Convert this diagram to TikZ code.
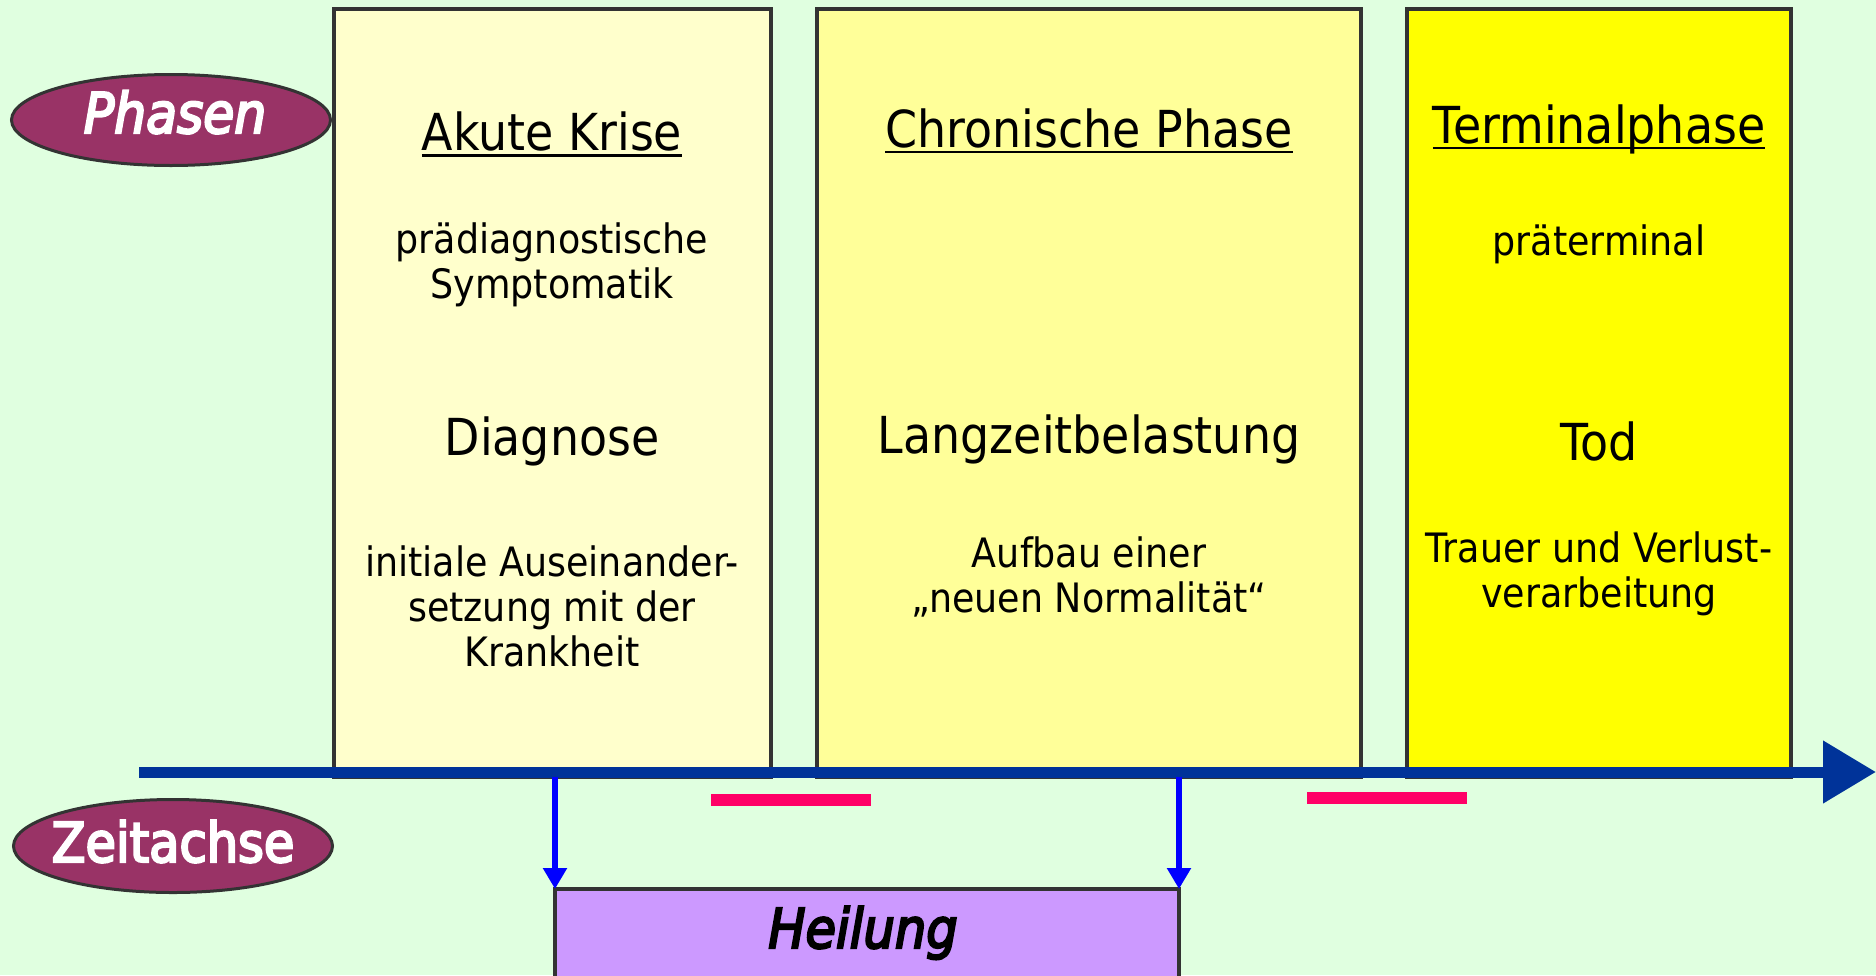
\documentclass[tikz,border=0pt]{standalone}
\usepackage{fontspec}
\setmainfont[FakeStretch=0.9]{DejaVu Sans}
\usetikzlibrary{arrows.meta,shapes.geometric}
\definecolor{bgc}{HTML}{E0FFE0}
\definecolor{bord}{HTML}{333333}
\definecolor{boxA}{HTML}{FFFFCC}
\definecolor{boxB}{HTML}{FFFF99}
\definecolor{boxC}{HTML}{FFFF00}
\definecolor{ellc}{HTML}{993366}
\definecolor{axc}{HTML}{003399}
\definecolor{pinkc}{HTML}{FF0066}
\definecolor{bluc}{HTML}{0000FF}
\definecolor{heilc}{HTML}{CC99FF}
\newcommand\myul[1]{\setbox0\hbox{#1}\rlap{\rule[-6pt]{\wd0}{2.5pt}}\box0}
\begin{document}
\begin{tikzpicture}[x=1pt,y=-1pt,
  phasebox/.style={rectangle,draw=bord,line width=4pt,inner sep=0pt,outer sep=0pt},
  ell/.style={ellipse,draw=bord,line width=3pt,fill=ellc,inner sep=0pt,outer sep=0pt},
  ttl/.style={font=\fontsize{51}{60}\selectfont,inner sep=0pt,text=black},
  big/.style={font=\fontsize{51}{60}\selectfont,inner sep=0pt,text=black},
  small/.style={font=\fontsize{40.5}{45}\selectfont,align=center,inner sep=0pt,text=black},
  axisline/.style={draw=axc,line width=11pt,-{Triangle[length=53pt,width=60pt]}},
  bluarrow/.style={draw=bluc,line width=6.5pt,-{Triangle[length=21pt,width=23pt]}},
  pinkbar/.style={draw=pinkc,line width=12pt},
  elltext/.style={text=white,inner sep=0pt,anchor=base}
]
\useasboundingbox (0,0) rectangle (1876,975);
\clip (0,0) rectangle (1876,975);
\fill[bgc] (0,0) rectangle (1876,975);

% phase boxes
\node[phasebox,fill=boxA,minimum width=437pt,minimum height=768pt] (b1) at (552.5,393) {};
\node[phasebox,fill=boxB,minimum width=544pt,minimum height=768pt] (b2) at (1089,393) {};
\node[phasebox,fill=boxC,minimum width=384pt,minimum height=768pt] (b3) at (1599,393) {};

% time axis
\coordinate (axs) at (139,772);
\coordinate (axe) at (1876,772);
\coordinate (axb) at (0,777);
\draw[axisline] (axs) -- (axe);

% red bars
\draw[pinkbar] (711,800) -- (871,800);
\draw[pinkbar] (1307,798) -- (1467,798);

% Heilung
\node[phasebox,fill=heilc,minimum width=624pt,minimum height=120pt] (heil) at (867,949) {};
\node[font=\fontsize{55}{60}\selectfont\itshape\addfontfeatures{FakeBold=4},inner sep=0pt,anchor=base] (heilT) at (863,948) {Heilung};
\draw[bluarrow] (heil.north west |- axb) -- (heil.north west);
\draw[bluarrow] (heil.north east |- axb) -- (heil.north east);

% ellipses
\node[ell,minimum width=319pt,minimum height=91pt] (ph) at (171,120) {};
\node[elltext,font=\fontsize{56}{60}\selectfont\itshape\addfontfeatures{FakeBold=4}] (phT) at (175,133) {Phasen};
\node[ell,minimum width=319pt,minimum height=93pt] (za) at (173,846) {};
\node[elltext,font=\fontsize{55}{60}\selectfont\addfontfeatures{FakeBold=4}] (zaT) at (173,862) {Zeitachse};

% box 1 texts
\node[ttl] (t1) at (552,134.5) {\myul{Akute Krise}};
\node[small] (s1) at (552,265) {prädiagnostische\\Symptomatik};
\node[big] (m1) at (552,441) {Diagnose};
\node[small] (l1) at (552,606) {initiale Auseinander-\\setzung mit der\\Krankheit};

% box 2 texts
\node[ttl] (t2) at (1089,131) {\myul{Chronische Phase}};
\node[big] (m2) at (1089,439) {Langzeitbelastung};
\node[small] (l2) at (1089,577) {Aufbau einer\\„neuen Normalität“};

% box 3 texts
\node[ttl] (t3) at (1599,129) {\myul{Terminalphase}};
\node[small] (s3) at (1599,244) {präterminal};
\node[big] (m3) at (1599,441) {Tod};
\node[small] (l3) at (1599,574) {Trauer und Verlust-\\verarbeitung};
\end{tikzpicture}
\end{document}
